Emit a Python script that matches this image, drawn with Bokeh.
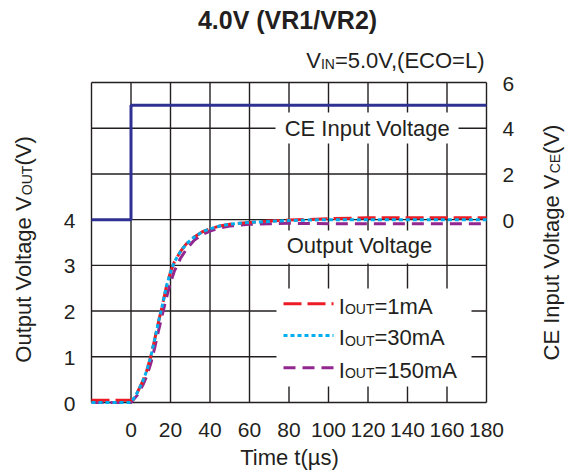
import math
from bokeh.plotting import figure
from bokeh.models import Range1d
from bokeh.core.properties import value
from bokeh.embed import file_html
from bokeh.resources import INLINE

# ---------------- data ----------------
t_out = [-20, 0, 3, 6, 8, 10, 12, 14, 16, 18, 20, 22, 25, 28, 32, 36, 40, 45, 50, 60, 70, 80, 100, 120, 140, 160, 180]
v_1mA = [0.05, 0.05, 0.2, 0.47, 0.7, 1.0, 1.38, 1.78, 2.15, 2.55, 2.85, 3.08, 3.3, 3.47, 3.62, 3.73, 3.8, 3.86, 3.9, 3.94, 3.97, 3.99, 4.02, 4.04, 4.04, 4.04, 4.04]
v_30mA = [0.0, 0.0, 0.2, 0.47, 0.7, 1.0, 1.38, 1.78, 2.15, 2.55, 2.85, 3.08, 3.3, 3.47, 3.62, 3.73, 3.8, 3.86, 3.9, 3.94, 3.96, 3.98, 4.0, 4.0, 4.0, 4.0, 4.0]
v_150mA = [0.0, 0.0, 0.15, 0.38, 0.58, 0.85, 1.2, 1.58, 1.95, 2.3, 2.62, 2.88, 3.15, 3.35, 3.55, 3.67, 3.75, 3.82, 3.86, 3.9, 3.91, 3.92, 3.91, 3.91, 3.91, 3.91, 3.91]
t_ce = [-20, 0, 0, 180]
v_ce = [0, 0, 5, 5]

x_ticks = [0, 20, 40, 60, 80, 100, 120, 140, 160, 180]
x_grid = [-20, 0, 20, 40, 60, 80, 100, 120, 140, 160, 180]
y_ticks = [0, 1, 2, 3, 4]
y_grid = [0, 1, 2, 3, 4, 5, 6, 7]
ce_ticks = [0, 2, 4, 6]
x_min, x_max = -20, 180
y_min, y_max = 0, 7

title_text = "4.0V (VR1/VR2)"
cond_parts = [("V", 22), ("IN", 14), ("=5.0V,(ECO=L)", 22)]
ylab_parts = [("Output Voltage V", 22), ("OUT", 14), ("(V)", 22)]
y2lab_parts = [("CE Input Voltage V", 22), ("CE", 14), ("(V)", 22)]
xlab = "Time t(\u00b5s)"
ce_note = "CE Input Voltage"
out_note = "Output Voltage"
legend_labels = [[("I", 22), ("OUT", 14), ("=1mA", 22)],
                 [("I", 22), ("OUT", 14), ("=30mA", 22)],
                 [("I", 22), ("OUT", 14), ("=150mA", 22)]]
colors = ["#ed1c24", "#00aeef", "#92278f"]
dashes = ["18 6", "4 3", "12 7"]
CE_COLOR = "#2e3192"
INK = "#231f20"
FONT = "Liberation Sans"

# ---------------- geometry (page px) ----------------
W, H = 574, 474
FL, FR, FT, FB = 91, 486, 82, 402   # plot box

def X(ix):
    return x_min + (ix - FL) * (x_max - x_min) / (FR - FL)

def Y(iy):
    return y_min + (FB - iy) * (y_max - y_min) / (FB - FT)

def CE(v):  # left-axis value -> CE scale value (CE 0 at left 4, 2 V per left unit)
    return (v - 4) * 2

AW = {' ': 278, '(': 333, ')': 333, '.': 278, ',': 278, '/': 278, '=': 584,
      'A': 667, 'C': 722, 'E': 667, 'I': 278, 'L': 556, 'N': 722, 'O': 778, 'R': 722,
      'T': 611, 'U': 722, 'V': 667, 'a': 556, 'e': 556, 'g': 556, 'i': 222, 'l': 222,
      'm': 833, 'n': 556, 'o': 556, 'p': 556, 's': 500, 't': 278, 'u': 556}

def tw(s, size):
    return sum(AW.get(c, 556) for c in s) * size / 1000.0

p = figure(width=W, height=H, output_backend="svg", toolbar_location=None,
           x_range=Range1d(X(0), X(W)), y_range=Range1d(Y(H), Y(0)),
           x_axis_type=None, y_axis_type=None,
           min_border_left=0, min_border_right=0, min_border_top=0, min_border_bottom=0)
p.extra_y_ranges = {"ce": Range1d(CE(Y(H)), CE(Y(0)))}
p.background_fill_color = "white"
p.border_fill_color = "white"
p.outline_line_color = None

# grid + plot box
p.segment(x0=x_grid, x1=x_grid, y0=[y_min] * len(x_grid), y1=[y_max] * len(x_grid),
          line_color=INK, line_width=1.4)
p.segment(x0=[x_min] * len(y_grid), x1=[x_max] * len(y_grid), y0=y_grid, y1=y_grid,
          line_color=INK, line_width=1.4)

# white boxes behind in-plot texts
boxes = [(275, 458, 112, 143), (277, 440, 230, 263), (276, 471, 288, 386)]
p.quad(left=[X(b[0]) for b in boxes], right=[X(b[1]) for b in boxes],
       top=[Y(b[2]) for b in boxes], bottom=[Y(b[3]) for b in boxes],
       fill_color="white", line_color=None)

# curves
p.line(t_ce, v_ce, y_range_name="ce", line_color=CE_COLOR, line_width=3)
p.line(t_out, v_150mA, line_color=colors[2], line_width=3, line_dash=dashes[2])
p.line(t_out, v_1mA, line_color=colors[0], line_width=3, line_dash=dashes[0])
p.line(t_out, v_30mA, line_color=colors[1], line_width=3, line_dash=dashes[1])

# tick labels
TICK = "21px"
p.text(x=[x_min] * len(y_ticks), y=y_ticks, text=[str(v) for v in y_ticks],
       x_offset=-16, y_offset=1, text_align="right", text_baseline="middle",
       text_font=value(FONT), text_font_size=TICK, text_color=INK)
p.text(x=[x_max] * len(ce_ticks), y=ce_ticks, text=[str(v) for v in ce_ticks],
       y_range_name="ce", x_offset=16, y_offset=1, text_align="left", text_baseline="middle",
       text_font=value(FONT), text_font_size=TICK, text_color=INK)
p.text(x=x_ticks, y=[y_min] * len(x_ticks), text=[str(v) for v in x_ticks],
       y_offset=27, text_align="center", text_baseline="middle",
       text_font=value(FONT), text_font_size=TICK, text_color=INK)

MID = 0.35  # cap-centre height above the baseline, in em

def text_at(s, ix, iy_base, size, align="left", bold=False, vertical=False):
    if vertical:   # reads bottom-to-top; its baseline is the vertical line x = ix
        ax, ay, ang = ix - MID * size, iy_base, math.pi / 2
    else:
        ax, ay, ang = ix, iy_base - MID * size, 0.0
    p.text(x=[X(ax)], y=[Y(ay)], text=[s], text_align=align, text_baseline="middle",
           angle=ang, text_font=value(FONT), text_font_size=f"{size}px",
           text_font_style="bold" if bold else "normal", text_color=INK)

def parts_h(parts, ix, iy):
    x = ix
    for s, sz in parts:
        text_at(s, x, iy, sz)
        x += tw(s, sz)

def parts_v(parts, ix, iy_start):
    y = iy_start
    for s, sz in parts:
        text_at(s, ix, y, sz, vertical=True)
        y -= tw(s, sz)

# legend
rows = [303.3, 335.0, 367.3]
for i in range(3):
    yy = rows[i]
    p.line([X(283), X(333)], [Y(yy), Y(yy)], line_color=colors[i], line_width=3, line_dash=dashes[i])
    parts_h(legend_labels[i], 338.3, yy + 10)

# in-plot notes
text_at(ce_note, 366.7, 136, 22, align="center")
text_at(out_note, 359, 253, 22, align="center")

# title and condition
text_at(title_text, 287, 28.5, 25, align="center", bold=True)
total = sum(tw(s, sz) for s, sz in cond_parts)
parts_h(cond_parts, FR - total, 68)

# axis titles
text_at(xlab, 289, 465, 22, align="center")
tot_l = sum(tw(s, sz) for s, sz in ylab_parts)
parts_v(ylab_parts, 31, 249 + tot_l / 2)
tot_r = sum(tw(s, sz) for s, sz in y2lab_parts)
parts_v(y2lab_parts, 559, 242 + tot_r / 2)

open("out.html", "w").write(file_html(p, INLINE))
